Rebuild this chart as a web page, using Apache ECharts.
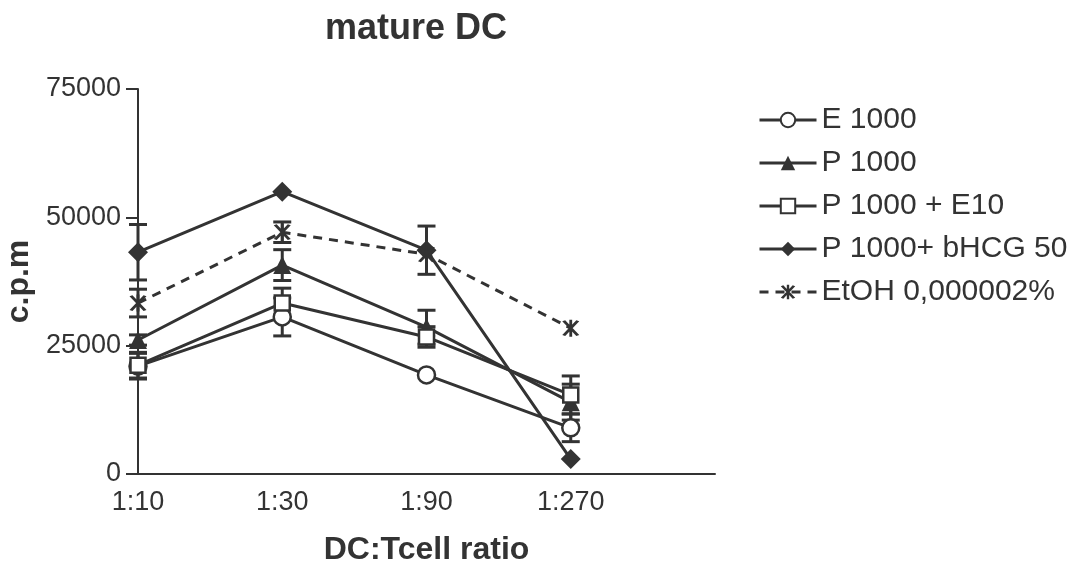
<!DOCTYPE html>
<html>
<head>
<meta charset="utf-8">
<title>mature DC</title>
<script src="https://cdn.jsdelivr.net/npm/echarts@6/dist/echarts.min.js"></script>
<style>
  html, body { margin: 0; padding: 0; background: #fff; }
  #chart { width: 1078px; height: 564px; }
</style>
</head>
<body>
<div id="chart"></div>
<script>
// x categories (last one is an empty slot so the axis runs past 1:270)
const categories = ['1:10', '1:30', '1:90', '1:270', ''];
const yTicks = [0, 25000, 50000, 75000];

// mean c.p.m and error (SEM)
const e1000 = [21000, 30600, 19300, 9000];
const e1000Err = [2500, 3700, 0, 2700];
const p1000 = [26100, 40700, 28600, 14000];
const p1000Err = [1000, 3000, 3300, 3500];
const p1000E10 = [21200, 33300, 26700, 15400];
const p1000E10Err = [2500, 2900, 2000, 3700];
const p1000Hcg = [43200, 55000, 43600, 2900];
const p1000HcgErr = [5400, 0, 4700, 0];
const etoh = [33300, 47100, 42800, 28400];
const etohErr = [2700, 2000, 0, 0];

const ink = '#333';
const font = 'Liberation Sans, Arial, sans-serif';
const asterisk = 'path://M9,0 L11,0 L11,20 L9,20 Z M6.04,0.74 L16.04,18.06 L13.96,19.26 L3.96,1.94 Z M13.96,0.74 L16.04,1.94 L6.04,19.26 L3.96,18.06 Z';
const sizes = { circle: 17, rect: 15, triangle: 18, diamond: 20 };

function lineSeries(name, data, symbol, filled, dashed) {
  return {
    name: name,
    type: 'line',
    data: data,
    symbol: symbol,
    symbolSize: sizes[symbol] || 17,
    z: 3,
    itemStyle: filled
      ? { color: ink }
      : { color: '#fff', borderColor: ink, borderWidth: 2.5 },
    lineStyle: { color: ink, width: 3, type: dashed ? [9, 7] : 'solid' }
  };
}

function errorSeries(values, errs) {
  const pts = [];
  values.forEach(function (v, i) {
    if (errs[i] > 0) pts.push([i, v, errs[i]]);
  });
  return {
    type: 'custom',
    z: 2,
    silent: true,
    data: pts,
    encode: { x: 0, y: 1 },
    renderItem: function (params, api) {
      const x = api.value(0), y = api.value(1), e = api.value(2);
      const hi = api.coord([x, y + e]);
      const lo = api.coord([x, y - e]);
      const w = 9;
      const st = { stroke: ink, lineWidth: 3 };
      return {
        type: 'group',
        children: [
          { type: 'line', shape: { x1: hi[0], y1: hi[1], x2: lo[0], y2: lo[1] }, style: st },
          { type: 'line', shape: { x1: hi[0] - w, y1: hi[1], x2: hi[0] + w, y2: hi[1] }, style: st },
          { type: 'line', shape: { x1: lo[0] - w, y1: lo[1], x2: lo[0] + w, y2: lo[1] }, style: st }
        ]
      };
    }
  };
}

const chart = echarts.init(document.getElementById('chart'));
chart.setOption({
  animation: false,
  textStyle: { fontFamily: font, color: ink },
  title: {
    text: 'mature DC',
    left: 325,
    top: 11,
    padding: 0,
    textStyle: { fontSize: 36, fontWeight: 'bold', color: ink, fontFamily: font }
  },
  legend: {
    orient: 'vertical',
    left: 753,
    top: 100,
    itemWidth: 57,
    itemHeight: 18,
    itemGap: 13,
    lineStyle: { width: 3 },
    textStyle: { fontSize: 30, color: ink, fontFamily: font },
    data: ['E 1000', 'P 1000', 'P 1000 + E10', 'P 1000+ bHCG 50', 'EtOH 0,000002%']
  },
  grid: { left: 138, right: 363, top: 89, bottom: 90, containLabel: false, outerBoundsMode: 'none' },
  xAxis: {
    type: 'category',
    data: categories,
    boundaryGap: false,
    name: 'DC:Tcell ratio',
    nameLocation: 'middle',
    nameGap: 60,
    nameTextStyle: { fontSize: 32, fontWeight: 'bold', color: ink },
    axisLine: { lineStyle: { color: ink, width: 2 } },
    axisTick: { show: false },
    axisLabel: { fontSize: 27, color: ink, margin: 15, interval: 0 },
    splitLine: { show: false }
  },
  yAxis: {
    type: 'value',
    min: yTicks[0],
    max: yTicks[yTicks.length - 1],
    interval: yTicks[1] - yTicks[0],
    name: 'c.p.m',
    nameLocation: 'middle',
    nameGap: 98,
    nameTextStyle: { fontSize: 32, fontWeight: 'bold', color: ink },
    axisLine: { show: true, lineStyle: { color: ink, width: 2 } },
    axisTick: { show: true, length: 12, lineStyle: { color: ink, width: 2 } },
    axisLabel: { fontSize: 27, color: ink, margin: 17, formatter: function (v) { return String(v); } },
    splitLine: { show: false }
  },
  series: [
    errorSeries(e1000, e1000Err),
    errorSeries(p1000, p1000Err),
    errorSeries(p1000E10, p1000E10Err),
    errorSeries(p1000Hcg, p1000HcgErr),
    errorSeries(etoh, etohErr),
    lineSeries('E 1000', e1000, 'circle', false, false),
    lineSeries('P 1000', p1000, 'triangle', true, false),
    lineSeries('P 1000 + E10', p1000E10, 'rect', false, false),
    lineSeries('P 1000+ bHCG 50', p1000Hcg, 'diamond', true, false),
    lineSeries('EtOH 0,000002%', etoh, asterisk, true, true)
  ]
});
</script>
</body>
</html>
